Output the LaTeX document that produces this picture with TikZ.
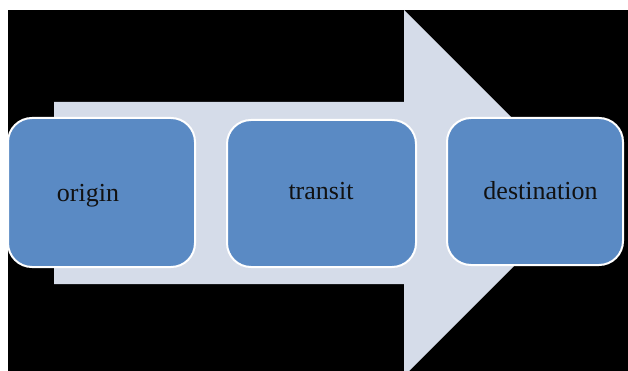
\documentclass[tikz,border=0pt]{standalone}
\usepackage{fontspec}
\setmainfont{Liberation Serif}
\definecolor{boxblue}{HTML}{5A8AC4}
\definecolor{arrowfill}{HTML}{D5DCE9}
\definecolor{txtc}{HTML}{111111}
\tikzset{
  stagebox/.style={draw=white, line width=2pt, fill=boxblue, rounded corners=24pt, inner sep=0pt},
  stagetxt/.style={anchor=base, text=txtc, font=\fontsize{26}{30}\selectfont, inner sep=0pt}
}
\begin{document}
\begin{tikzpicture}[x=1pt,y=-1pt]
\useasboundingbox (0,0) rectangle (628,371);
\fill[white] (0,0) rectangle (628,371);
\fill[black] (8,10) rectangle (628,371);
\begin{scope}
\clip (8,10) rectangle (628,371);
\fill[arrowfill] (54,102) -- (404,102) -- (404,10) -- (587,193) -- (404,376) -- (404,284) -- (54,284) -- cycle;
\node[stagebox, minimum width=187pt, minimum height=149pt] (origin) at (101.5,192.5) {};
\node[stagebox, minimum width=189pt, minimum height=147pt] (transit) at (321.5,193.5) {};
\node[stagebox, minimum width=176pt, minimum height=147pt] (destination) at (535,191.5) {};
\end{scope}
\node[stagetxt] (t1) at (88,201) {origin};
\node[stagetxt] (t2) at (321,200) {transit};
\node[stagetxt] (t3) at (540.5,200) {destination};
\end{tikzpicture}
\end{document}
